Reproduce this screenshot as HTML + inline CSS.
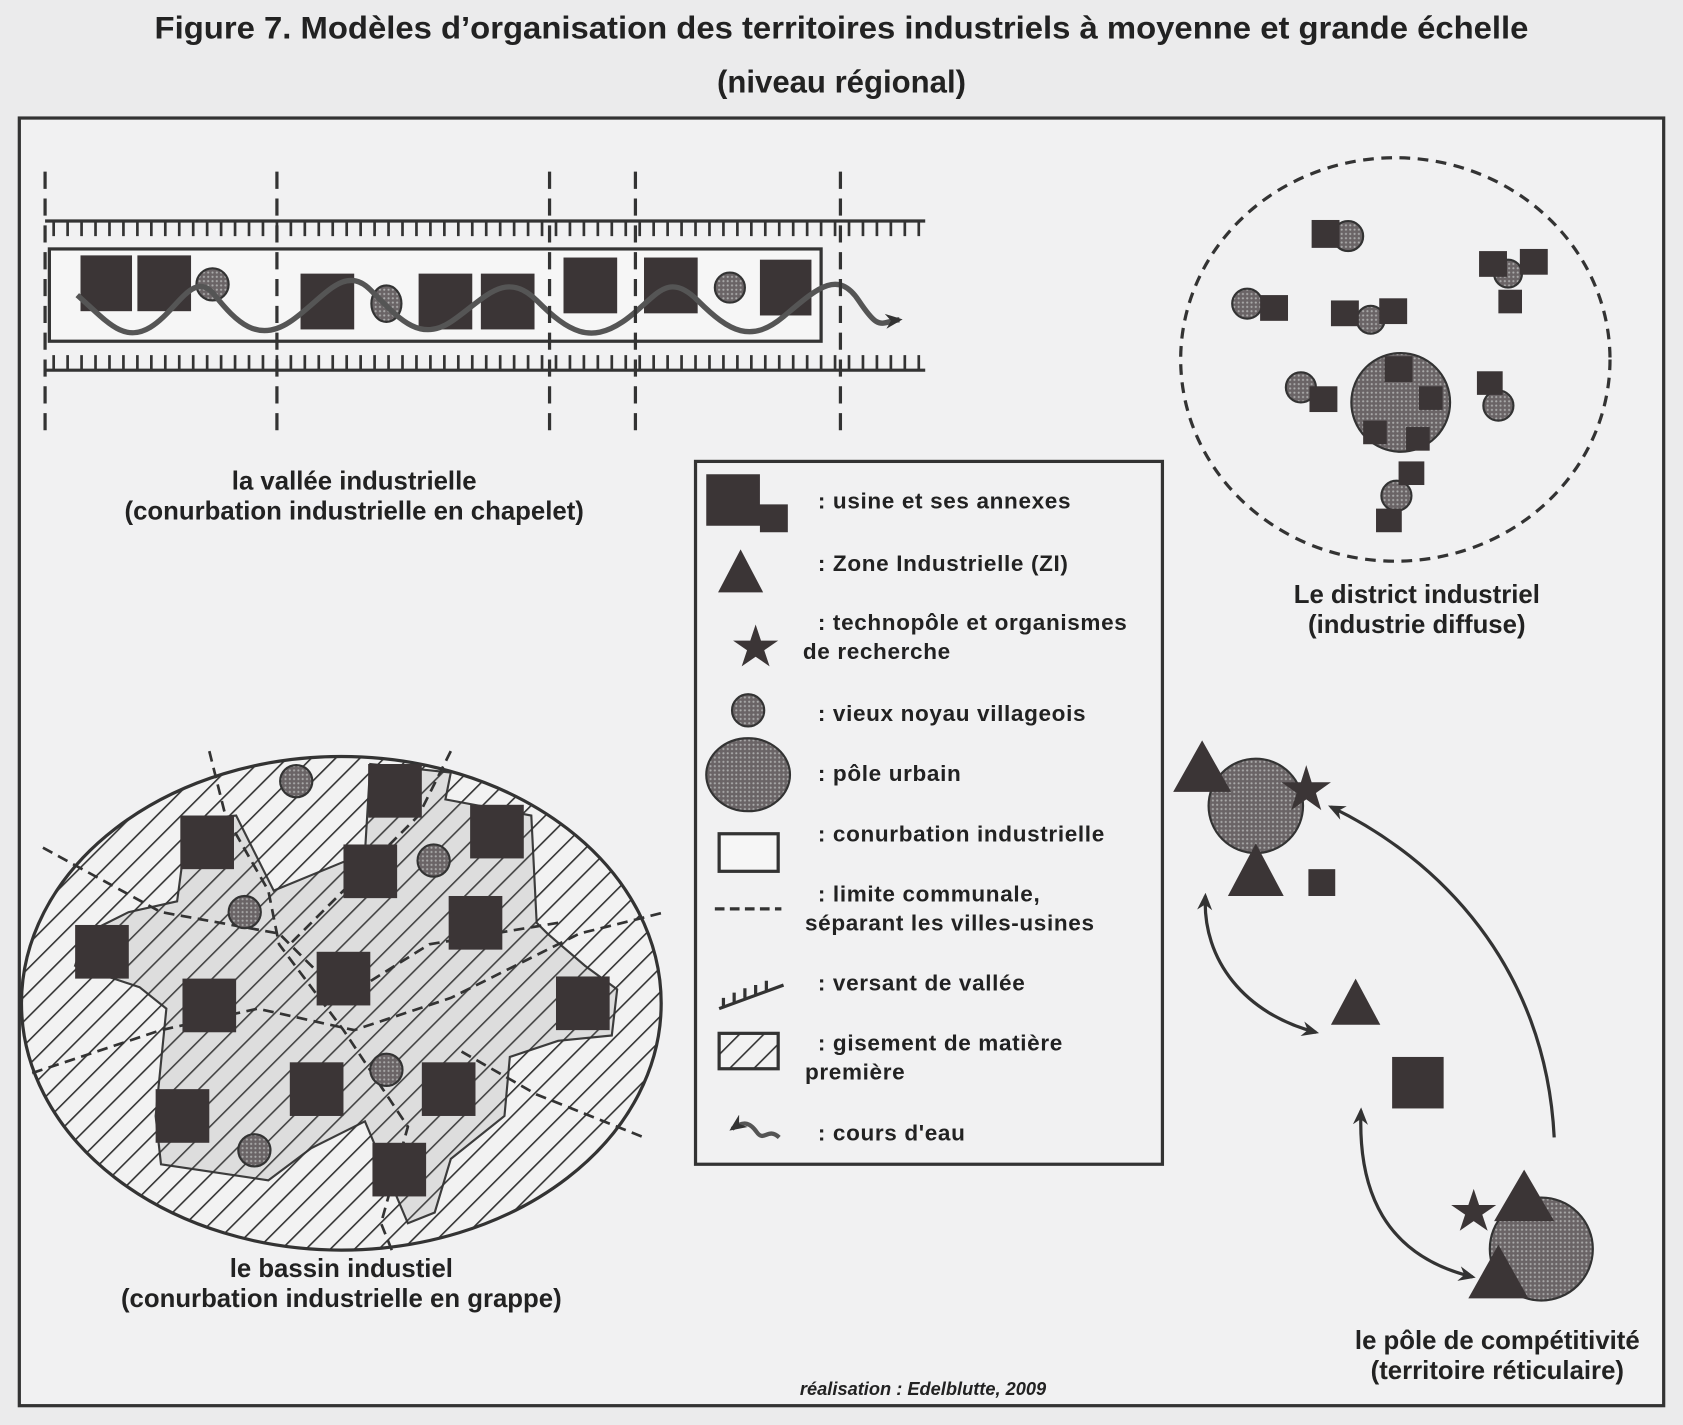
<!DOCTYPE html>
<html><head><meta charset="utf-8"><style>
html,body{margin:0;padding:0;background:#ebebec;}
svg{display:block}
text{font-family:"Liberation Sans",sans-serif;fill:#222;}
</style></head><body>
<svg width="1683" height="1425" viewBox="0 0 1568 1328" preserveAspectRatio="none" xmlns="http://www.w3.org/2000/svg">
<defs>
<pattern id="dot" width="4" height="4" patternUnits="userSpaceOnUse"><rect width="4" height="4" fill="#6a6466"/><circle cx="2" cy="2" r="1" fill="#aaa"/></pattern>
<pattern id="hatch" width="16" height="16" patternUnits="userSpaceOnUse" patternTransform="rotate(45)"><rect width="16" height="16" fill="#f2f2f2"/><line x1="0" y1="0" x2="0" y2="16" stroke="#333" stroke-width="3"/></pattern>
<pattern id="hatchL" width="16" height="16" patternUnits="userSpaceOnUse" patternTransform="rotate(45)"><rect width="16" height="16" fill="#dcdcdc"/><line x1="0" y1="0" x2="0" y2="16" stroke="#444" stroke-width="3"/></pattern>
<marker id="ar" markerUnits="userSpaceOnUse" markerWidth="16" markerHeight="16" refX="13" refY="8" orient="auto"><path d="M0,1 L16,8 L0,15 L5,8z" fill="#333"/></marker>
<marker id="as" markerUnits="userSpaceOnUse" markerWidth="16" markerHeight="16" refX="3" refY="8" orient="auto"><path d="M16,1 L0,8 L16,15 L11,8z" fill="#333"/></marker>
</defs>
<rect width="1568" height="1328" fill="#ebebec"/>
<text x="784" y="36" font-size="29" font-weight="bold" text-anchor="middle" textLength="1280" lengthAdjust="spacingAndGlyphs">Figure 7. Modèles d’organisation des territoires industriels à moyenne et grande échelle</text>
<text x="784" y="86" font-size="29" font-weight="bold" text-anchor="middle">(niveau régional)</text>
<rect x="18" y="110" width="1532" height="1200" fill="#f1f1f2" stroke="#333" stroke-width="3"/>

<!-- valley -->
<g stroke="#333" stroke-width="3" fill="none">
<line x1="42" y1="206" x2="862" y2="206"/>
<line x1="42" y1="345" x2="862" y2="345"/>
</g>
<g stroke="#333" stroke-width="2.5">
<path d="M50 206v14M63 206v14M76 206v14M89 206v14M102 206v14M115 206v14M128 206v14M141 206v14M154 206v14M167 206v14M180 206v14M193 206v14M206 206v14M219 206v14M232 206v14M245 206v14M258 206v14M271 206v14M284 206v14M297 206v14M310 206v14M323 206v14M336 206v14M349 206v14M362 206v14M375 206v14M388 206v14M401 206v14M414 206v14M427 206v14M440 206v14M453 206v14M466 206v14M479 206v14M492 206v14M505 206v14M518 206v14M531 206v14M544 206v14M557 206v14M570 206v14M583 206v14M596 206v14M609 206v14M622 206v14M635 206v14M648 206v14M661 206v14M674 206v14M687 206v14M700 206v14M713 206v14M726 206v14M739 206v14M752 206v14M765 206v14M778 206v14M791 206v14M804 206v14M817 206v14M830 206v14M843 206v14M856 206v14"/>
<path d="M50 345v-14M63 345v-14M76 345v-14M89 345v-14M102 345v-14M115 345v-14M128 345v-14M141 345v-14M154 345v-14M167 345v-14M180 345v-14M193 345v-14M206 345v-14M219 345v-14M232 345v-14M245 345v-14M258 345v-14M271 345v-14M284 345v-14M297 345v-14M310 345v-14M323 345v-14M336 345v-14M349 345v-14M362 345v-14M375 345v-14M388 345v-14M401 345v-14M414 345v-14M427 345v-14M440 345v-14M453 345v-14M466 345v-14M479 345v-14M492 345v-14M505 345v-14M518 345v-14M531 345v-14M544 345v-14M557 345v-14M570 345v-14M583 345v-14M596 345v-14M609 345v-14M622 345v-14M635 345v-14M648 345v-14M661 345v-14M674 345v-14M687 345v-14M700 345v-14M713 345v-14M726 345v-14M739 345v-14M752 345v-14M765 345v-14M778 345v-14M791 345v-14M804 345v-14M817 345v-14M830 345v-14M843 345v-14M856 345v-14"/>
</g>
<rect x="46" y="232" width="719" height="86" fill="#f6f6f6" stroke="#333" stroke-width="3"/>
<g fill="#3b3536">
<rect x="75" y="238" width="48" height="52"/><rect x="128" y="238" width="50" height="52"/>
<rect x="280" y="255" width="50" height="52"/><rect x="390" y="255" width="50" height="52"/><rect x="448" y="255" width="50" height="52"/>
<rect x="525" y="240" width="50" height="52"/><rect x="600" y="240" width="50" height="52"/><rect x="708" y="242" width="48" height="52"/>
</g>
<g fill="url(#dot)" stroke="#333" stroke-width="2"><circle cx="198" cy="265" r="15"/><ellipse cx="360" cy="283" rx="14" ry="17"/><circle cx="680" cy="268" r="14"/></g>
<path d="M72 275 C100 300,115 320,140 305 S180 250,200 275 S240 320,270 300 S320 245,345 270 S390 320,420 300 S470 250,500 280 S550 320,580 300 S620 250,650 280 S700 320,730 295 S780 250,800 280 S820 300,838 298" fill="none" stroke="#555" stroke-width="5" marker-end="url(#ar)"/>
<g stroke="#333" stroke-width="3" stroke-dasharray="16,9"><line x1="42" y1="160" x2="42" y2="410"/><line x1="258" y1="160" x2="258" y2="410"/><line x1="512" y1="160" x2="512" y2="410"/><line x1="592" y1="160" x2="592" y2="410"/><line x1="783" y1="160" x2="783" y2="410"/></g>
<text x="330" y="456" font-size="24" font-weight="bold" text-anchor="middle">la vallée industrielle</text>
<text x="330" y="484" font-size="24" font-weight="bold" text-anchor="middle">(conurbation industrielle en chapelet)</text>

<!-- district -->
<ellipse cx="1300" cy="335" rx="200" ry="188" fill="none" stroke="#333" stroke-width="3" stroke-dasharray="10,7"/>
<g fill="url(#dot)" stroke="#333" stroke-width="2">
<circle cx="1305" cy="375" r="46"/>
<circle cx="1256" cy="220" r="14"/><circle cx="1162" cy="283" r="14"/><circle cx="1277" cy="298" r="13"/>
<circle cx="1212" cy="361" r="14"/><circle cx="1405" cy="255" r="13"/><circle cx="1396" cy="378" r="14"/><circle cx="1301" cy="462" r="14"/>
</g>
<g fill="#3b3536">
<rect x="1222" y="205" width="26" height="26"/><rect x="1174" y="275" width="26" height="24"/><rect x="1240" y="280" width="26" height="24"/><rect x="1285" y="278" width="26" height="24"/>
<rect x="1220" y="360" width="26" height="24"/><rect x="1378" y="234" width="26" height="24"/><rect x="1416" y="232" width="26" height="24"/><rect x="1396" y="270" width="22" height="22"/>
<rect x="1376" y="346" width="24" height="22"/><rect x="1290" y="332" width="26" height="24"/><rect x="1322" y="360" width="22" height="22"/><rect x="1270" y="392" width="22" height="22"/><rect x="1310" y="398" width="22" height="22"/>
<rect x="1303" y="430" width="24" height="22"/><rect x="1282" y="474" width="24" height="22"/>
</g>
<text x="1320" y="562" font-size="24" font-weight="bold" text-anchor="middle">Le district industriel</text>
<text x="1320" y="590" font-size="24" font-weight="bold" text-anchor="middle">(industrie diffuse)</text>

<!-- legend -->
<rect x="648" y="430" width="435" height="655" fill="#f1f1f2" stroke="#333" stroke-width="3"/>
<path d="M658 442 h50 v28 h26 v26 h-26 v-6 h-50z" fill="#3b3536"/>
<polygon points="690,512 669,552 711,552" fill="#3b3536"/>
<polygon points="704,582 709,597 725,597 712,606 717,621 704,612 691,621 696,606 683,597 699,597" fill="#3b3536"/>
<circle cx="697" cy="662" r="15" fill="url(#dot)" stroke="#333" stroke-width="2"/>
<ellipse cx="697" cy="722" rx="39" ry="34" fill="url(#dot)" stroke="#333" stroke-width="2"/>
<rect x="670" y="777" width="55" height="35" fill="#f6f6f6" stroke="#333" stroke-width="3"/>
<line x1="666" y1="847" x2="728" y2="847" stroke="#333" stroke-width="3" stroke-dasharray="9,5"/>
<path d="M670 940 L730 918 M674 938 v-8 M684 934 v-9 M694 930 v-9 M704 927 v-9 M714 923 v-9" stroke="#333" stroke-width="3" fill="none"/>
<rect x="670" y="963" width="55" height="33" fill="url(#hatch)" stroke="#333" stroke-width="3"/>
<path d="M726 1060 C715 1050,712 1065,705 1055 S692 1045,682 1052" fill="none" stroke="#555" stroke-width="4" marker-end="url(#ar)"/>
<g font-size="21" font-weight="bold" letter-spacing="0.6">
<text x="762" y="474">: usine et ses annexes</text>
<text x="762" y="532">: Zone Industrielle (ZI)</text>
<text x="762" y="587">: technopôle et organismes</text>
<text x="748" y="614">de recherche</text>
<text x="762" y="672">: vieux noyau villageois</text>
<text x="762" y="728">: pôle urbain</text>
<text x="762" y="784">: conurbation industrielle</text>
<text x="762" y="840">: limite communale,</text>
<text x="750" y="867">séparant les villes-usines</text>
<text x="762" y="923">: versant de vallée</text>
<text x="762" y="979">: gisement de matière</text>
<text x="750" y="1006">première</text>
<text x="762" y="1063">: cours d'eau</text>
</g>

<!-- bassin -->
<ellipse cx="318" cy="935" rx="298" ry="230" fill="url(#hatch)" stroke="#333" stroke-width="3"/>
<path d="M175 765 L220 760 L255 830 L340 795 L345 712 L420 720 L415 745 L495 760 L500 860 L510 870 L545 900 L575 922 L570 965 L520 970 L475 985 L470 1040 L420 1080 L405 1130 L380 1140 L340 1045 L290 1070 L250 1100 L150 1085 L145 1040 L155 940 L130 920 L70 900 L80 870 L120 850 L165 840 Z" fill="url(#hatchL)" stroke="#333" stroke-width="2" opacity="0.95"/>
<g stroke="#333" stroke-width="2.5" stroke-dasharray="10,6" fill="none">
<path d="M195 700 L210 760 L250 830 L260 880 L320 960 L380 1050 L355 1140 L365 1165"/>
<path d="M40 790 L150 850 L260 870 L320 930 L400 880 L520 860"/>
<path d="M30 1000 L150 960 L240 940 L330 960 L420 930 L540 870 L620 850"/>
<path d="M420 700 L390 760 L330 820 L270 880"/>
<path d="M430 980 L500 1020 L600 1060"/>
</g>
<g fill="#3b3536">
<rect x="343" y="712" width="50" height="50"/><rect x="438" y="750" width="50" height="50"/><rect x="168" y="760" width="50" height="50"/>
<rect x="320" y="787" width="50" height="50"/><rect x="418" y="835" width="50" height="50"/><rect x="70" y="862" width="50" height="50"/>
<rect x="295" y="887" width="50" height="50"/><rect x="170" y="912" width="50" height="50"/><rect x="518" y="910" width="50" height="50"/>
<rect x="270" y="990" width="50" height="50"/><rect x="393" y="990" width="50" height="50"/><rect x="145" y="1015" width="50" height="50"/>
<rect x="347" y="1065" width="50" height="50"/>
</g>
<g fill="url(#dot)" stroke="#333" stroke-width="2"><circle cx="276" cy="728" r="15"/><circle cx="404" cy="802" r="15"/><circle cx="228" cy="850" r="15"/><circle cx="360" cy="997" r="15"/><circle cx="237" cy="1072" r="15"/></g>
<text x="318" y="1190" font-size="24" font-weight="bold" text-anchor="middle">le bassin industiel</text>
<text x="318" y="1218" font-size="24" font-weight="bold" text-anchor="middle">(conurbation industrielle en grappe)</text>

<!-- pole -->
<circle cx="1170" cy="751" r="44" fill="url(#dot)" stroke="#333" stroke-width="2"/>
<polygon points="1120,690 1093,738 1147,738" fill="#3b3536"/>
<polygon points="1217,713 1222,729 1240,729 1226,739 1231,755 1217,745 1203,755 1208,739 1194,729 1212,729" fill="#3b3536"/>
<polygon points="1170,786 1144,835 1196,835" fill="#3b3536"/>
<rect x="1219" y="810" width="25" height="25" fill="#3b3536"/>
<polygon points="1263,912 1240,955 1286,955" fill="#3b3536"/>
<rect x="1297" y="985" width="48" height="48" fill="#3b3536"/>
<circle cx="1436" cy="1164" r="48" fill="url(#dot)" stroke="#333" stroke-width="2"/>
<polygon points="1420,1090 1392,1138 1448,1138" fill="#3b3536"/>
<polygon points="1373,1108 1378,1123 1394,1123 1381,1132 1386,1147 1373,1138 1360,1147 1365,1132 1352,1123 1368,1123" fill="#3b3536"/>
<polygon points="1396,1160 1368,1210 1424,1210" fill="#3b3536"/>
<g fill="none" stroke="#333" stroke-width="3">
<path d="M1123 835 C1120 895,1160 945,1226 962" marker-start="url(#as)" marker-end="url(#ar)"/>
<path d="M1240 752 C1340 800,1440 900,1448 1060" marker-start="url(#as)"/>
<path d="M1268 1035 C1265 1110,1290 1170,1372 1190" marker-start="url(#as)" marker-end="url(#ar)"/>
</g>
<text x="1395" y="1257" font-size="24" font-weight="bold" text-anchor="middle">le pôle de compétitivité</text>
<text x="1395" y="1285" font-size="24" font-weight="bold" text-anchor="middle">(territoire réticulaire)</text>
<text x="860" y="1300" font-size="17" font-style="italic" font-weight="bold" text-anchor="middle">réalisation : Edelblutte, 2009</text>
</svg>
</body></html>
